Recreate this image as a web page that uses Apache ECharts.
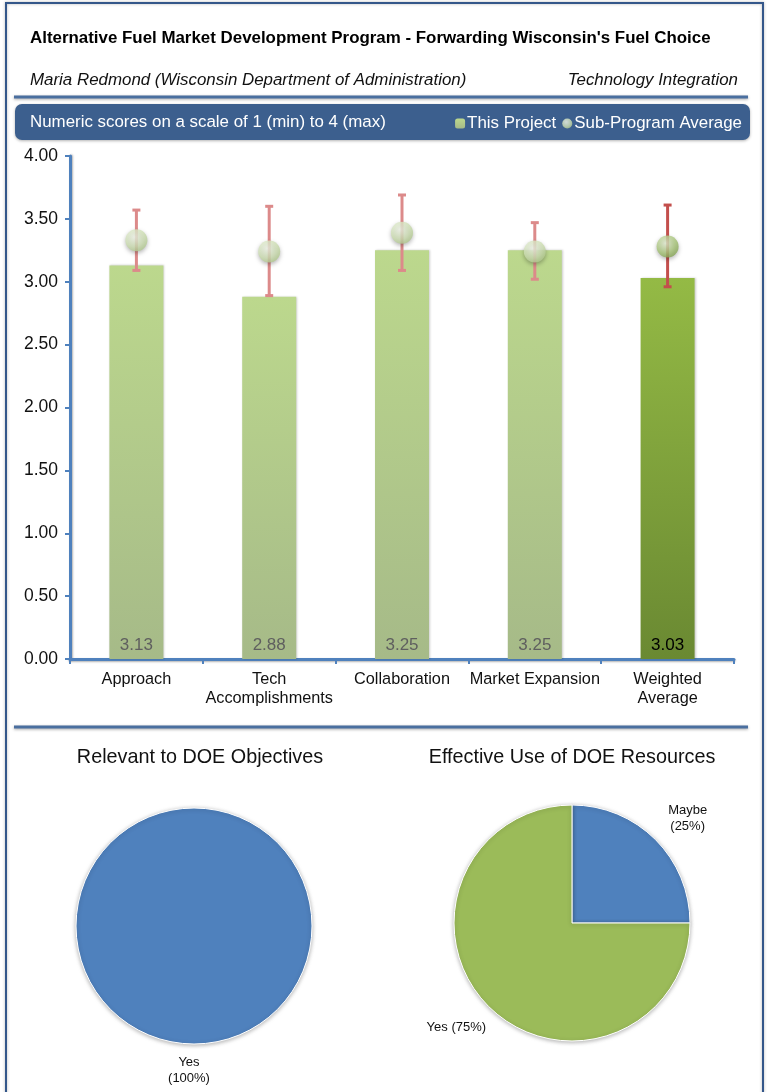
<!DOCTYPE html>
<html>
<head>
<meta charset="utf-8">
<title>Forwarding Wisconsin's Fuel Choice</title>
<script src="https://cdn.jsdelivr.net/npm/echarts@6/dist/echarts.min.js"></script>
<style>
  html, body { margin: 0; padding: 0; background: #ffffff; }
  #chart { width: 769px; height: 1092px; }
</style>
</head>
<body>
<div id="chart"></div>
<script>
// Review criteria and scores
const categories = ['Approach', 'Tech\nAccomplishments', 'Collaboration', 'Market Expansion', 'Weighted\nAverage'];
const projectScores = [3.13, 2.88, 3.25, 3.25, 3.03];
const subProgramAverage = [3.33, 3.24, 3.39, 3.24, 3.28];
const rangeLow = [3.09, 2.89, 3.09, 3.02, 2.96];
const rangeHigh = [3.57, 3.60, 3.69, 3.47, 3.61];
const yTicks = { min: 0, max: 4, interval: 0.5 };

// Reviewer responses
const relevantNames = ['Yes'];
const relevantValues = [100];
const resourceNames = ['Maybe', 'Yes'];
const resourceValues = [25, 75];

const FONT = '"Liberation Sans", Arial, Helvetica, sans-serif';
const AXIS_BLUE = '#4f81bd';
const LAST = categories.length - 1;

const lightBar = new echarts.graphic.LinearGradient(0, 0, 0, 1, [
  { offset: 0, color: '#bcd88d' },
  { offset: 1, color: '#a6ba88' }
]);
const darkBar = new echarts.graphic.LinearGradient(0, 0, 0, 1, [
  { offset: 0, color: '#94ba45' },
  { offset: 1, color: '#6a8932' }
]);
const lightBall = new echarts.graphic.RadialGradient(0.4, 0.35, 0.75, [
  { offset: 0, color: '#f4f9ec' },
  { offset: 0.6, color: '#cfe0b4' },
  { offset: 1, color: '#a9c284' }
]);
const darkBall = new echarts.graphic.RadialGradient(0.4, 0.35, 0.75, [
  { offset: 0, color: '#e6f0d4' },
  { offset: 0.6, color: '#a9c67a' },
  { offset: 1, color: '#7c9c4a' }
]);

const barData = projectScores.map((v, i) => ({
  value: v,
  itemStyle: { color: i === LAST ? darkBar : lightBar },
  label: { color: i === LAST ? '#000000' : '#5f5f5f' }
}));
const ballData = subProgramAverage.map((v, i) => ({
  value: [i, v],
  itemStyle: { color: i === LAST ? darkBall : lightBall }
}));
const rangeData = rangeLow.map((lo, i) => [i, lo, rangeHigh[i]]);

const chart = echarts.init(document.getElementById('chart'), null, { renderer: 'canvas' });

const headerLine = (y) => ({
  type: 'line',
  shape: { x1: 14, y1: y, x2: 748, y2: y },
  style: { stroke: '#4a6f9f', lineWidth: 3, shadowBlur: 3, shadowColor: 'rgba(0,0,0,0.35)', shadowOffsetY: 1 }
});

chart.setOption({
  animation: false,
  textStyle: { fontFamily: FONT },
  graphic: [
    { type: 'rect', shape: { x: 6, y: 3, width: 757, height: 1100 },
      style: { fill: 'none', stroke: '#34578a', lineWidth: 2, shadowBlur: 3, shadowColor: 'rgba(0,0,0,0.3)' } },
    { type: 'text', x: 30, y: 38,
      style: { text: "Alternative Fuel Market Development Program - Forwarding Wisconsin's Fuel Choice",
               font: 'bold 16.9px ' + FONT, fill: '#000', textVerticalAlign: 'middle' } },
    { type: 'text', x: 30, y: 80,
      style: { text: 'Maria Redmond (Wisconsin Department of Administration)',
               font: 'italic 16.9px ' + FONT, fill: '#111', textVerticalAlign: 'middle' } },
    { type: 'text', x: 738, y: 80,
      style: { text: 'Technology Integration', font: 'italic 16.9px ' + FONT, fill: '#111',
               textAlign: 'right', textVerticalAlign: 'middle' } },
    headerLine(97),
    { type: 'rect', shape: { x: 15, y: 104, width: 735, height: 36, r: 7 },
      style: { fill: '#3c5f8e', shadowBlur: 3, shadowColor: 'rgba(0,0,0,0.3)', shadowOffsetY: 1 } },
    { type: 'text', x: 30, y: 122, z: 10,
      style: { text: 'Numeric scores on a scale of 1 (min) to 4 (max)', font: '16.9px ' + FONT,
               fill: '#ffffff', textVerticalAlign: 'middle' } },
    headerLine(727),
    { type: 'text', x: 200, y: 758,
      style: { text: 'Relevant to DOE Objectives', font: '19.8px ' + FONT, fill: '#111',
               textAlign: 'center', textVerticalAlign: 'middle' } },
    { type: 'text', x: 572, y: 758,
      style: { text: 'Effective Use of DOE Resources', font: '19.8px ' + FONT, fill: '#111',
               textAlign: 'center', textVerticalAlign: 'middle' } }
  ],
  legend: {
    data: ['This Project', 'Sub-Program Average'],
    right: 22, top: 110,
    itemWidth: 10, itemHeight: 10, itemGap: 6,
    textStyle: { color: '#ffffff', fontSize: 16.9, fontFamily: FONT, padding: [0, 0, 0, -3] },
    z: 10
  },
  grid: { left: 70, right: 35, top: 156, bottom: 433 },
  xAxis: {
    type: 'category',
    data: categories,
    axisLine: { lineStyle: { color: AXIS_BLUE, width: 3, shadowBlur: 2, shadowColor: 'rgba(0,0,0,0.3)', shadowOffsetY: 1 } },
    axisTick: { show: true, length: 5, lineStyle: { color: AXIS_BLUE, width: 2 } },
    axisLabel: { color: '#111', fontSize: 16.3, lineHeight: 19, margin: 11, interval: 0, fontFamily: FONT }
  },
  yAxis: {
    type: 'value',
    min: yTicks.min, max: yTicks.max, interval: yTicks.interval,
    splitLine: { show: false },
    axisLine: { show: true, lineStyle: { color: AXIS_BLUE, width: 3, shadowBlur: 2, shadowColor: 'rgba(0,0,0,0.3)', shadowOffsetX: 1 } },
    axisTick: { show: true, length: 5, lineStyle: { color: AXIS_BLUE, width: 2 } },
    axisLabel: { color: '#111', fontSize: 17.5, margin: 12, fontFamily: FONT,
                 formatter: (v) => v.toFixed(2) }
  },
  series: [
    {
      name: 'This Project',
      type: 'bar',
      data: barData,
      barWidth: 54,
      itemStyle: { color: lightBar, shadowBlur: 2, shadowColor: 'rgba(0,0,0,0.2)', shadowOffsetX: 1 },
      label: { show: true, position: 'insideBottom', distance: 5, fontSize: 17, fontFamily: FONT,
               formatter: (p) => p.value.toFixed(2) },
      z: 2
    },
    {
      name: 'Range',
      type: 'custom',
      data: rangeData,
      encode: { x: 0, y: [1, 2] },
      z: 3,
      renderItem: (params, api) => {
        const i = api.value(0);
        const lo = api.coord([i, api.value(1)]);
        const hi = api.coord([i, api.value(2)]);
        const color = i === LAST ? '#c34f4c' : '#dc8a8a';
        const style = { stroke: color, lineWidth: 3 };
        const cap = 4;
        return {
          type: 'group',
          children: [
            { type: 'line', shape: { x1: lo[0], y1: lo[1], x2: hi[0], y2: hi[1] }, style },
            { type: 'line', shape: { x1: hi[0] - cap, y1: hi[1], x2: hi[0] + cap, y2: hi[1] }, style },
            { type: 'line', shape: { x1: lo[0] - cap, y1: lo[1], x2: lo[0] + cap, y2: lo[1] }, style }
          ]
        };
      }
    },
    {
      name: 'Sub-Program Average',
      type: 'scatter',
      data: ballData,
      symbol: 'circle',
      symbolSize: 22,
      itemStyle: { color: lightBall, shadowBlur: 4, shadowColor: 'rgba(0,0,0,0.35)', shadowOffsetY: 2 },
      z: 4
    },
    {
      name: 'Relevant to DOE Objectives',
      type: 'pie',
      center: [194, 926],
      radius: 118,
      startAngle: 90,
      clockwise: true,
      data: relevantNames.map((n, i) => ({
        name: n, value: relevantValues[i], itemStyle: { color: '#4f81bd' }
      })),
      itemStyle: { borderColor: '#ffffff', borderWidth: 1, shadowBlur: 4, shadowColor: 'rgba(0,0,0,0.3)', shadowOffsetY: 1 },
      label: { show: true, position: 'outside', formatter: '{b}\n({d}%)', color: '#111',
               fontSize: 13, lineHeight: 16, fontFamily: FONT },
      labelLine: { show: false, length: 26, length2: 0 },
      labelLayout: { align: 'center' },
      emphasis: { disabled: true }
    },
    {
      name: 'Effective Use of DOE Resources',
      type: 'pie',
      center: [572, 923],
      radius: 118,
      startAngle: 90,
      clockwise: true,
      data: resourceNames.map((n, i) => ({
        name: n, value: resourceValues[i],
        itemStyle: { color: n === 'Yes' ? '#9bbb59' : '#4f81bd' },
        label: { formatter: n === 'Yes' ? '{b} ({d}%)' : '{b}\n({d}%)' }
      })),
      itemStyle: { borderColor: '#ffffff', borderWidth: 1, shadowBlur: 4, shadowColor: 'rgba(0,0,0,0.3)', shadowOffsetY: 1 },
      label: { show: true, position: 'outside', color: '#111', fontSize: 13, lineHeight: 16, fontFamily: FONT },
      labelLine: { show: false, length: 30, length2: 6 },
      labelLayout: { align: 'center' },
      emphasis: { disabled: true }
    }
  ]
});
</script>
</body>
</html>
